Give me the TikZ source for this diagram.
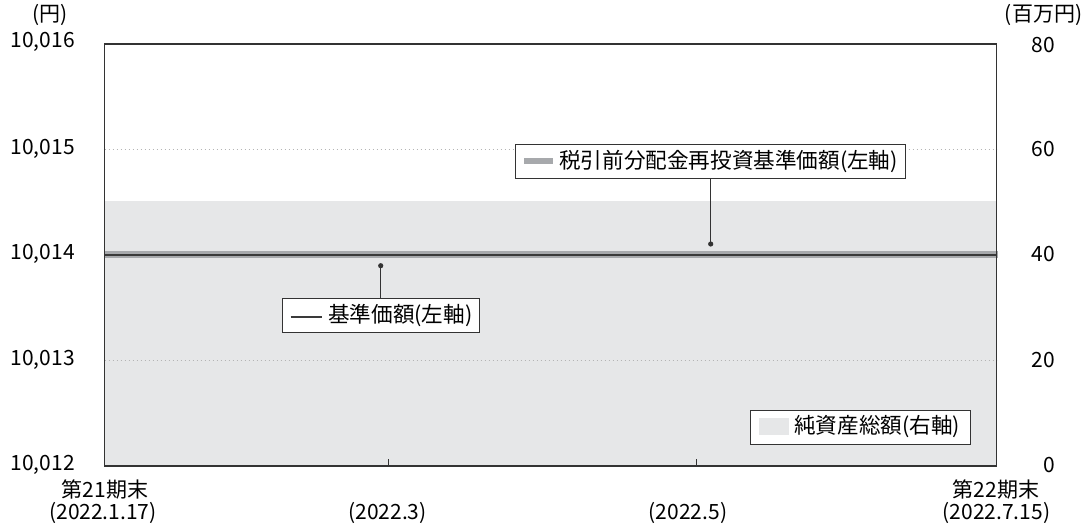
\documentclass[tikz,border=0pt]{standalone}
\usepackage{fontspec}
\setmainfont{Noto Sans CJK JP}
\definecolor{areagray}{HTML}{E6E7E8}
\definecolor{linegray}{HTML}{A7A9AC}
\definecolor{darkline}{HTML}{3A3A3A}
\definecolor{framec}{HTML}{333333}
\definecolor{gridc}{HTML}{B4B4B4}
\tikzset{
  lbl/.style={inner sep=0pt, font=\fontsize{21}{24}\selectfont},
  legtext/.style={inner sep=0pt, anchor=west, font=\fontsize{21.6}{24}\selectfont},
  legbox/.style={draw=framec, line width=1pt, fill=white, inner sep=0pt},
  gridline/.style={gridc, line width=1pt, dash pattern=on 1.2pt off 2.8pt},
  leader/.style={framec, line width=1pt},
}
\begin{document}
\begin{tikzpicture}[x=1pt,y=-1pt]
\useasboundingbox (0,0) rectangle (1083,525);
% area
\fill[areagray] (104.5,201) rectangle (996.5,466);
% grid
\coordinate (gl1) at (104.5,149); \coordinate (gr1) at (996.5,149);
\coordinate (gl3) at (104.5,360); \coordinate (gr3) at (996.5,360);
\draw[gridline] (gl1) -- (gr1);
\draw[gridline] (gl3) -- (gr3);
% ticks
\coordinate (t1b) at (388.5,466); \coordinate (t1t) at (388.5,459);
\coordinate (t2b) at (696.5,466); \coordinate (t2t) at (696.5,459);
\draw[framec, line width=1pt] (t1b) -- (t1t);
\draw[framec, line width=1pt] (t2b) -- (t2t);
% data lines
\coordinate (dl) at (104.5,254.5); \coordinate (dr) at (997.5,254.5);
\draw[linegray, line width=7pt] (dl) -- (dr);
\coordinate (kl) at (104.5,255.3); \coordinate (kr) at (996.5,255.3);
\draw[darkline, line width=2.2pt] (kl) -- (kr);
% frame
\draw[framec, line width=1.5pt] (104.5,44) rectangle (996.5,466);
% left axis labels
\node[lbl, anchor=east] (l16) at (75,42) {10,016};
\node[lbl, anchor=east] (l15) at (75,149) {10,015};
\node[lbl, anchor=east] (l14) at (75,254) {10,014};
\node[lbl, anchor=east] (l13) at (75,360) {10,013};
\node[lbl, anchor=east] (l12) at (75,465) {10,012};
\node[lbl] (lunit) at (50,15) {(円)};
% right axis labels
\node[lbl, anchor=east] (r80) at (1055,45) {80};
\node[lbl, anchor=east] (r60) at (1055,149) {60};
\node[lbl, anchor=east] (r40) at (1055,254) {40};
\node[lbl, anchor=east] (r20) at (1055,360) {20};
\node[lbl, anchor=east] (r0) at (1055,465) {0};
\node[lbl] (runit) at (1043.5,15) {(百万円)};
% x labels
\node[lbl] (x1a) at (105,490) {第21期末};
\node[lbl] (x1b) at (103,513) {(2022.1.17)};
\node[lbl] (x2) at (387.5,513) {(2022.3)};
\node[lbl] (x3) at (688,513) {(2022.5)};
\node[lbl] (x4a) at (996,490) {第22期末};
\node[lbl] (x4b) at (996.5,513) {(2022.7.15)};
% legend 1
\node[legbox, minimum width=390pt, minimum height=34pt] (b1) at (710,161) {};
\fill[linegray] (524,158.3) rectangle (553,164);
\node[legtext] (t1) at (559,161) {税引前分配金再投資基準価額(左軸)};
\coordinate (d1) at (710.7,244);
\draw[leader] (b1.south -| d1) -- (d1);
\fill[framec] (d1) circle (2.6pt);
% legend 2
\node[legbox, minimum width=196.3pt, minimum height=34pt] (b2) at (380.85,315) {};
\draw[darkline, line width=1.2pt] (290.7,317) -- (321.7,317);
\node[legtext] (t2) at (328,315) {基準価額(左軸)};
\coordinate (d2) at (380.7,265.7);
\draw[leader] (b2.north -| d2) -- (d2);
\fill[framec] (d2) circle (2.6pt);
% legend 3
\node[legbox, minimum width=219.3pt, minimum height=34.3pt] (b3) at (860.35,427.15) {};
\fill[areagray] (759,418) rectangle (789,435);
\node[legtext] (t3) at (794,427) {純資産総額(右軸)};
\end{tikzpicture}
\end{document}
